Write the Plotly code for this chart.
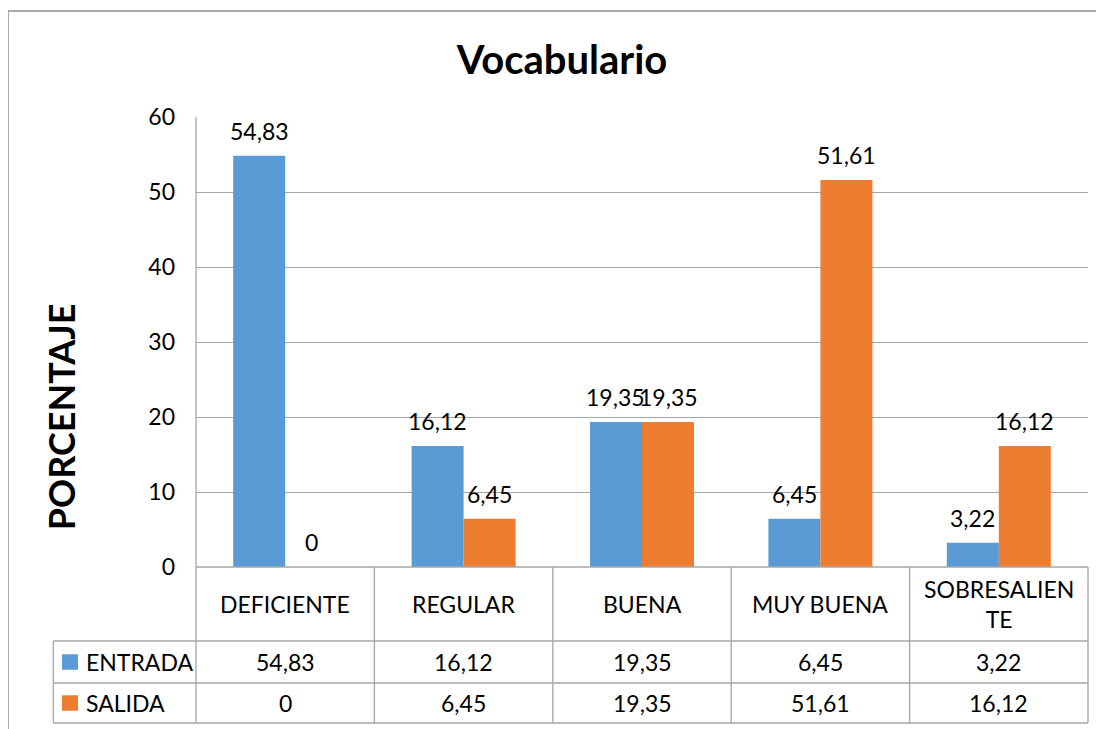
import plotly.graph_objects as go

# Data
categorias = ["DEFICIENTE", "REGULAR", "BUENA", "MUY BUENA", "SOBRESALIENTE"]
etiquetas_tabla = ["DEFICIENTE", "REGULAR", "BUENA", "MUY BUENA", "SOBRESALIEN<br>TE"]
series = ["ENTRADA", "SALIDA"]
entrada = [54.83, 16.12, 19.35, 6.45, 3.22]
salida = [0, 6.45, 19.35, 51.61, 16.12]
colores = ["#5B9BD5", "#ED7D31"]
y_ticks = [0, 10, 20, 30, 40, 50, 60]

FONT = "Lato"
GRID = "#A6A6A6"

# the page has an 8px body margin, so the figure is 8px smaller
W, H = 1096, 721
L, R, T, B = 188, 16, 109, 162
BARGAP = 0.417


def fmt(v):
    return f"{v:g}".replace(".", ",")


fig = go.Figure()
for nombre, valores, color in zip(series, [entrada, salida], colores):
    fig.add_trace(go.Bar(
        x=categorias,
        y=valores,
        name=nombre,
        marker=dict(color=color, line=dict(width=0)),
        showlegend=False,
    ))

# geometry of the data table (paper coords; plot area is y 0..1)
row_cat = (0.0, -0.1644)
row_ent = (-0.1644, -0.2578)
row_sal = (-0.2578, -0.3467)
x_left_tab = -0.1600
n = len(categorias)

shapes = []
line = dict(color=GRID, width=1.3)
# outer chart border (only left and top edges fall inside the picture)
shapes.append(dict(type="line", xref="paper", yref="paper", x0=-0.2108, x1=-0.2108, y0=-0.5, y1=1.2356,
                   line=dict(color="#8C8C8C", width=1.5)))
shapes.append(dict(type="line", xref="paper", yref="paper", x0=-0.2108, x1=1.5, y0=1.2356, y1=1.2356,
                   line=dict(color="#8C8C8C", width=1.5)))
# horizontal table lines
shapes.append(dict(type="line", xref="paper", yref="paper", x0=0, x1=1, y0=0, y1=0, line=line))
for yy in [row_ent[0], row_sal[0], row_sal[1]]:
    shapes.append(dict(type="line", xref="paper", yref="paper", x0=x_left_tab, x1=1, y0=yy, y1=yy, line=line))
# vertical table lines
for i in range(n + 1):
    shapes.append(dict(type="line", xref="paper", yref="paper", x0=i / n, x1=i / n,
                       y0=row_sal[1], y1=0, line=line))
shapes.append(dict(type="line", xref="paper", yref="paper", x0=x_left_tab, x1=x_left_tab,
                   y0=row_sal[1], y1=row_ent[0], line=line))
shapes.append(dict(type="line", xref="paper", yref="paper", x0=0, x1=0, y0=0, y1=1, line=line))

annotations = []
txt = dict(family=FONT, size=23, color="black")

# data labels above bars
cat_px = (W - L - R) / n
off = cat_px * (1 - BARGAP) / 4
for valores, shift in zip([entrada, salida], [-off, off]):
    for cat, v in zip(categorias, valores):
        annotations.append(dict(x=cat, xref="x", y=v, yref="y", text=fmt(v), showarrow=False,
                                font=txt, xanchor="center", yanchor="middle", xshift=shift, yshift=25))

for cat, lab, ve, vs in zip(categorias, etiquetas_tabla, entrada, salida):
    annotations.append(dict(x=cat, xref="x", y=sum(row_cat) / 2, yref="paper", text=lab, showarrow=False,
                            font=txt, xanchor="center", yanchor="middle"))
    annotations.append(dict(x=cat, xref="x", y=sum(row_ent) / 2, yref="paper", text=fmt(ve),
                            showarrow=False, font=txt, xanchor="center", yanchor="middle"))
    annotations.append(dict(x=cat, xref="x", y=sum(row_sal) / 2, yref="paper", text=fmt(vs),
                            showarrow=False, font=txt, xanchor="center", yanchor="middle"))

# legend keys inside the table
for nombre, color, row in zip(series, colores, [row_ent, row_sal]):
    yc = sum(row) / 2
    shapes.append(dict(type="rect", xref="paper", yref="paper", x0=-0.1502, x1=-0.1323,
                       y0=yc - 0.0172, y1=yc + 0.0172, fillcolor=color, line=dict(width=0)))
    annotations.append(dict(x=-0.1256, xref="paper", y=yc, yref="paper", text=nombre, showarrow=False,
                            font=txt, xanchor="left", yanchor="middle"))

# y axis title
annotations.append(dict(x=-0.1513, xref="paper", y=0.333, yref="paper", text="<b>PORCENTAJE</b>",
                        textangle=-90, showarrow=False, font=dict(family=FONT, size=36, color="black"),
                        xanchor="center", yanchor="middle"))

fig.update_layout(
    width=W,
    height=H,
    margin=dict(l=L, r=R, t=T, b=B),
    paper_bgcolor="white",
    plot_bgcolor="white",
    title=dict(text="<b>Vocabulario</b>", x=554 / W, xanchor="center", y=1 - 52 / H, yanchor="middle",
               font=dict(family=FONT, size=40, color="black")),
    barmode="group",
    bargap=BARGAP,
    bargroupgap=0,
    shapes=shapes,
    annotations=annotations,
    font=dict(family=FONT, size=23, color="black"),
)
fig.update_xaxes(showticklabels=False, showgrid=False, showline=False, zeroline=False)
fig.update_yaxes(range=[0, 60], tickvals=y_ticks, showgrid=True, gridcolor=GRID, gridwidth=1.3,
                 zeroline=False, showline=False, ticks="", ticklabelstandoff=20,
                 tickfont=dict(family=FONT, size=23, color="black"))

fig.write_html("out.html")
